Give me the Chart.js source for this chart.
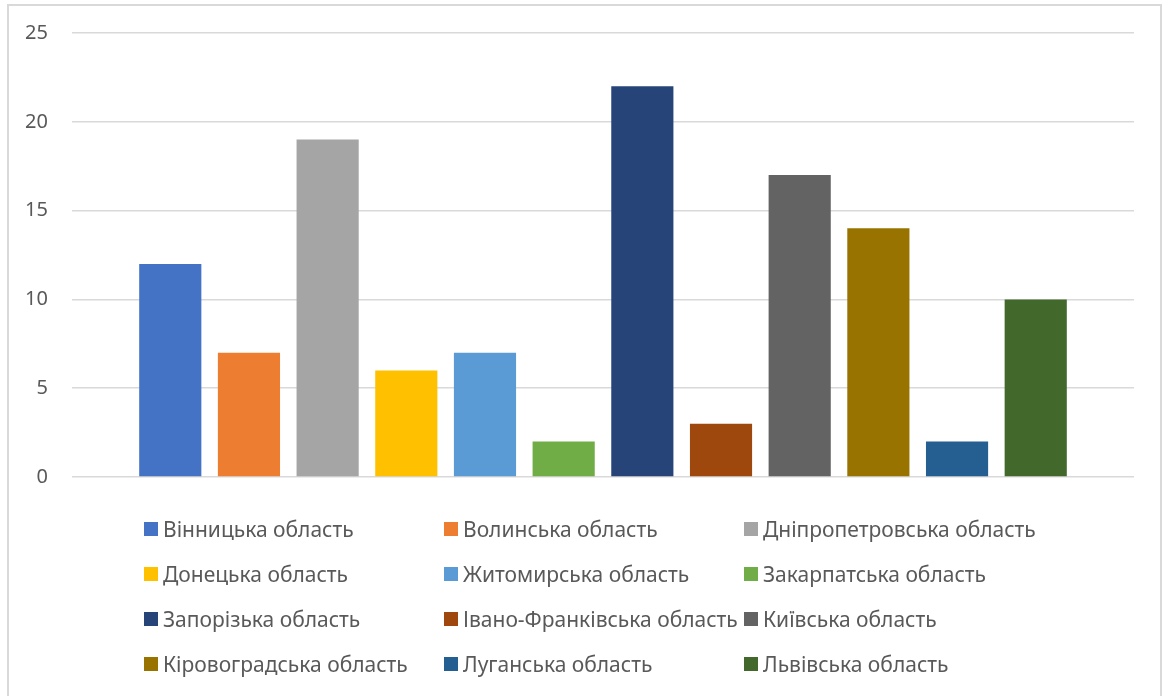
<!DOCTYPE html>
<html>
<head>
<meta charset="utf-8">
<script src="https://cdn.jsdelivr.net/npm/chart.js@4/dist/chart.umd.min.js"></script>
<style>
    body { margin: 0; background: #fff; font-family: "Noto Sans", sans-serif; }
    #frame {
        position: absolute; left: 7px; top: 4px;
        width: 1155px; height: 720px;
        border: 2px solid #d9d9d9;
        box-sizing: border-box;
    }
    #wrap { position: absolute; left: 0; top: 0; width: 1172px; height: 513px; }
    #legend {
        position: absolute; left: 144px; top: 506px;
        display: grid;
        grid-template-columns: 300px 300px 300px;
        grid-auto-rows: 45px;
        color: #595959; font-size: 21px;
    }
    .item { display: flex; align-items: center; height: 45px; white-space: nowrap; }
    .box { width: 14px; height: 14px; margin-right: 5px; flex: none; }
</style>
</head>
<body>
<div id="frame"></div>
<div id="wrap"><canvas id="chart"></canvas></div>
<div id="legend"></div>

<script>
/* ---------------- Data ---------------- */
const regions = [
    "Вінницька область", "Волинська область", "Дніпропетровська область",
    "Донецька область", "Житомирська область", "Закарпатська область",
    "Запорізька область", "Івано-Франківська область", "Київська область",
    "Кіровоградська область", "Луганська область", "Львівська область"
];
const counts = [12, 7, 19, 6, 7, 2, 22, 3, 17, 14, 2, 10];
const colors = [
    "#4472C4", "#ED7D31", "#A5A5A5", "#FFC000", "#5B9BD5", "#70AD47",
    "#264478", "#9E480E", "#636363", "#997300", "#255E91", "#43682B"
];
const yTicks = [0, 5, 10, 15, 20, 25];

/* ---------------- Chart ---------------- */
const datasets = regions.map((name, i) => ({
    label: name,
    data: [counts[i]],
    backgroundColor: colors[i],
    categoryPercentage: 0.889,
    barPercentage: 0.79
}));

new Chart(document.getElementById("chart"), {
    type: "bar",
    data: { labels: [""], datasets },
    options: {
        responsive: true,
        maintainAspectRatio: false,
        animation: false,
        layout: { padding: { top: 33, right: 38, bottom: 14, left: 0 } },
        plugins: { legend: { display: false }, tooltip: { enabled: false } },
        scales: {
            x: { display: false },
            y: {
                min: yTicks[0],
                max: yTicks[yTicks.length - 1],
                afterBuildTicks: s => { s.ticks = yTicks.map(v => ({ value: v })); },
                afterFit: s => { s.width = 72; s.paddingTop = 0; },
                border: { display: false },
                grid: { color: "#d9d9d9", lineWidth: 1.5, drawTicks: false },
                ticks: {
                    padding: 24,
                    color: "#595959",
                    font: { family: "Noto Sans", size: 20 }
                }
            }
        }
    }
});

/* ---------------- Legend ---------------- */
const legend = document.getElementById("legend");
regions.forEach((name, i) => {
    const div = document.createElement("div");
    div.className = "item";
    div.innerHTML = `<span class="box" style="background:${colors[i]}"></span>${name}`;
    legend.appendChild(div);
});
</script>
</body>
</html>
